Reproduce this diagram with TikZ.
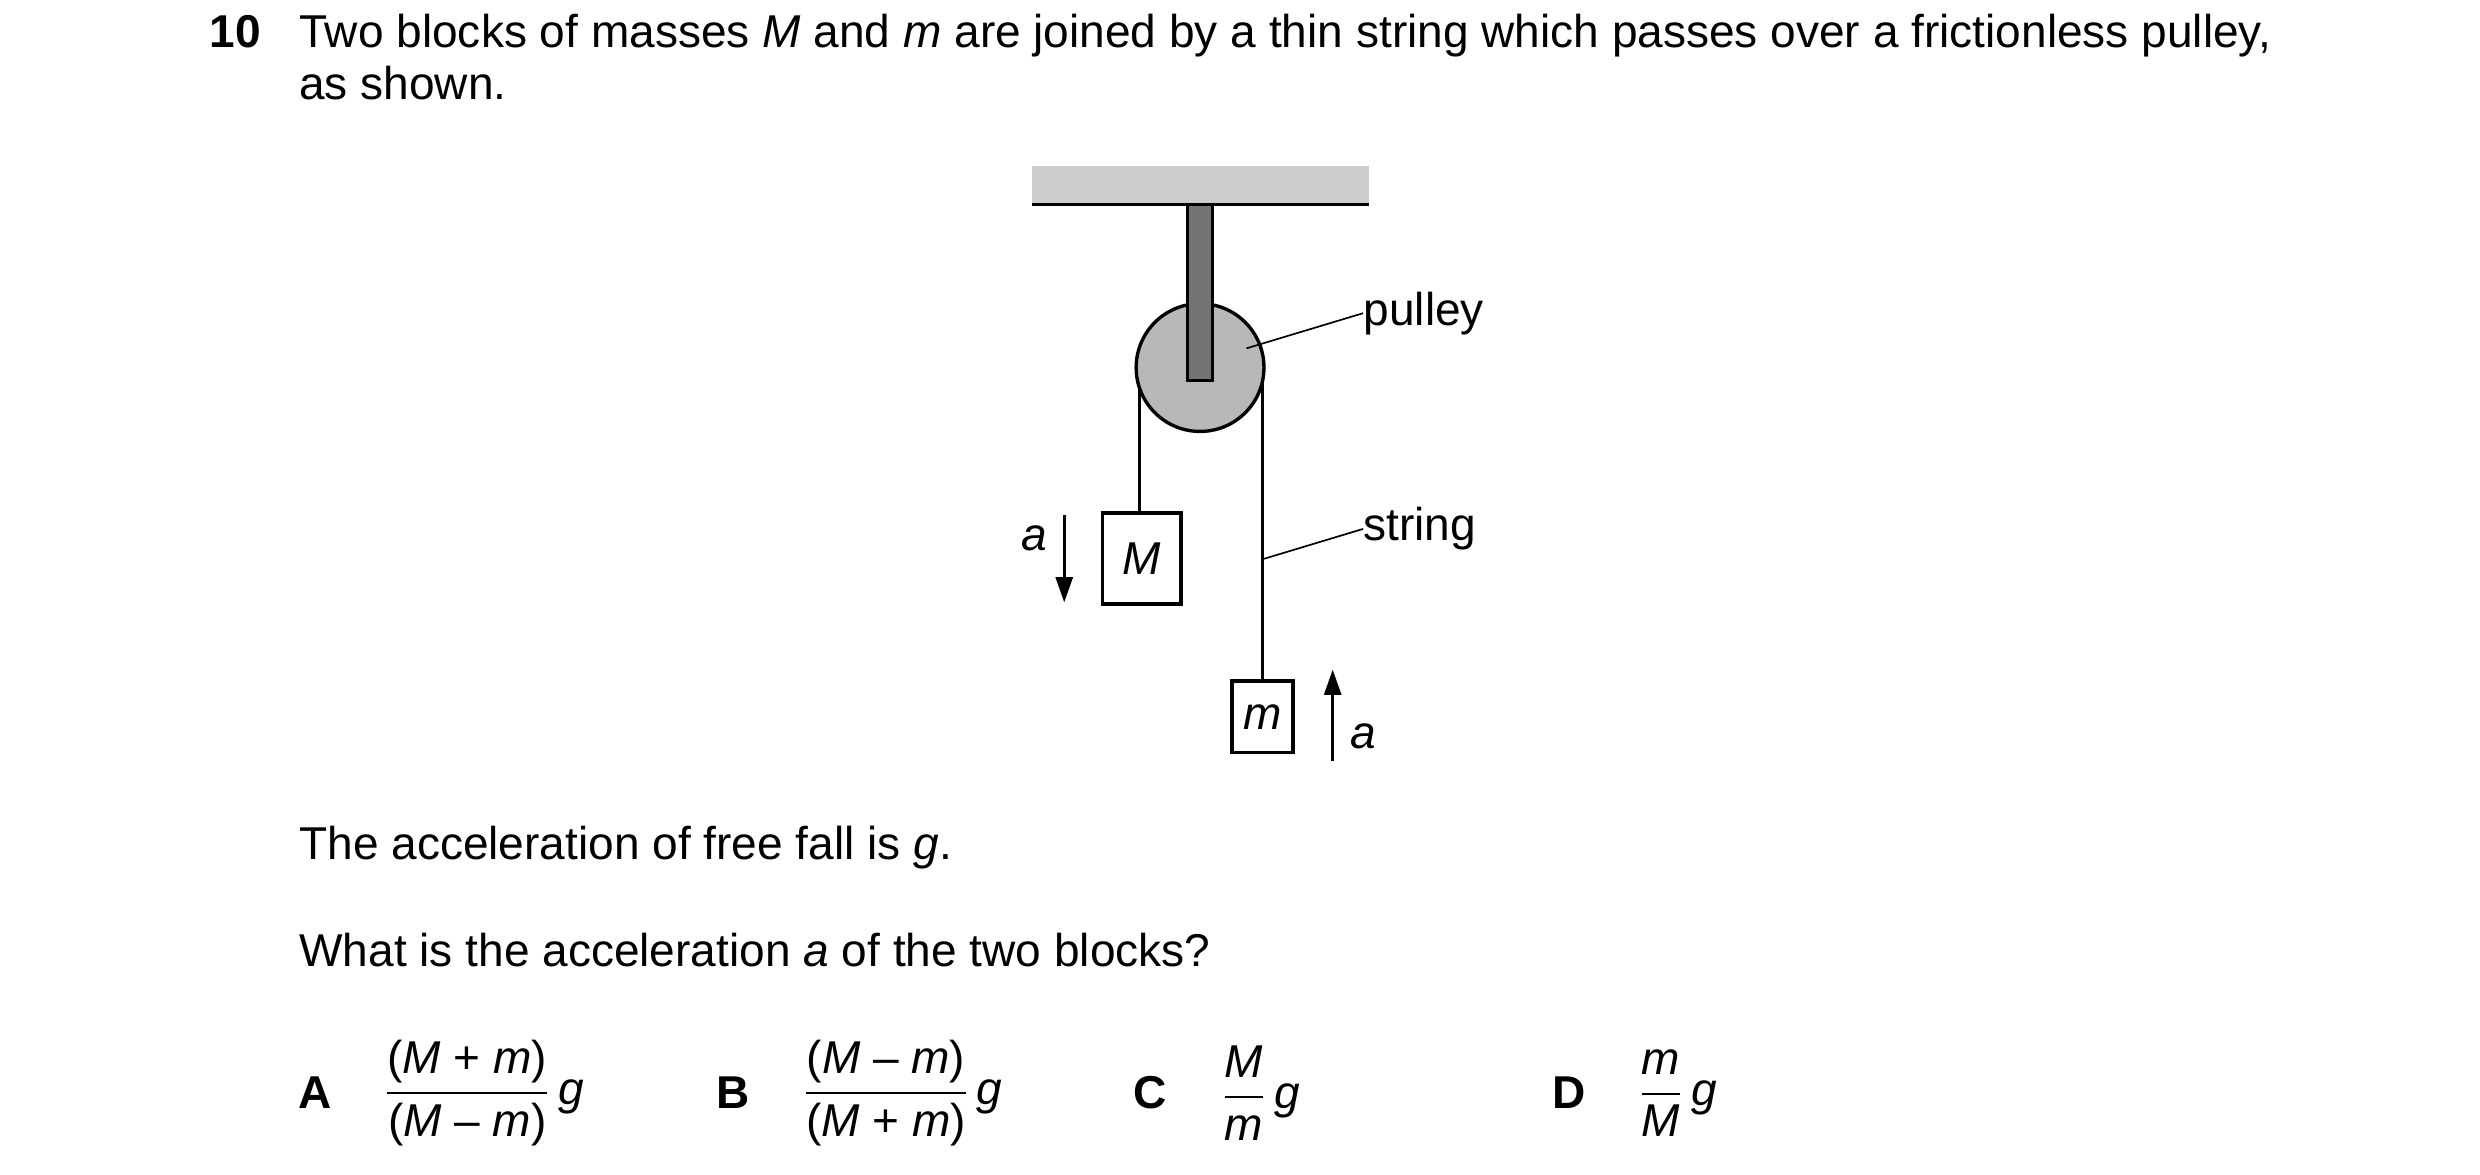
\documentclass[tikz,border=0pt]{standalone}
\usepackage{fontspec}
\setmainfont{Liberation Sans}
\usepackage{unicode-math}
\setmathfont{Latin Modern Math}
\usetikzlibrary{arrows.meta}
\newcommand{\fr}[2]{$\dfrac{\mbox{#1}}{\mbox{#2}}\,\mbox{\textit{g}}$}
\begin{document}
\begin{tikzpicture}[x=0.02cm,y=-0.02cm,
  txt/.style={font=\fontsize{16.4}{19}\selectfont,inner sep=0pt},
  blk/.style={draw,line width=1.2pt,fill=white,inner sep=0pt},
  str/.style={line width=1.1pt},
  lead/.style={line width=0.6pt},
  arr/.style={line width=1.1pt,-{Triangle[length=9pt,width=6pt]}}]
\useasboundingbox (0,0) rectangle (1552,735);
\node[txt,anchor=base west,font=\fontsize{16.4}{19}\selectfont\bfseries] (num) at (131,30) {10};
\node[txt,anchor=base west] (l1) at (187,30) {Two blocks of masses \textit{M} and \textit{m} are joined by a thin string which passes over a frictionless pulley,};
\node[txt,anchor=base west] (l2) at (187,62) {as shown.};
% ceiling
\fill[black!20] (646,104) rectangle (857,128);
\draw[line width=1.3pt] (646,128) -- (857,128);
% strings
\draw[str] (713,240) -- (713,320);
\draw[str] (790,230) -- (790,425);
% pulley
\node[circle,draw,line width=1.2pt,fill=black!28,inner sep=0pt,minimum size=1.6cm] (p) at (751,230) {};
\draw[line width=1.1pt,fill=black!55] (743,128) rectangle (759,238);
% blocks
\node[blk,minimum width=0.98cm,minimum height=1.14cm,anchor=north west] (M) at (689,320) {};
\node[txt] at (M.center) {\textit{M}};
\node[blk,minimum width=0.76cm,minimum height=0.9cm,anchor=north west] (mb) at (770,425) {};
\node[txt] at (mb.center) {\textit{m}};
% arrows
\coordinate (a1s) at (666,322); \coordinate (a1e) at (666,377);
\draw[arr] (a1s) -- (a1e);
\node[txt] (la1) at (647,337) {\textit{a}};
\coordinate (a2s) at (834,476); \coordinate (a2e) at (834,419);
\draw[arr] (a2s) -- (a2e);
\node[txt] (la2) at (853,461) {\textit{a}};
% labels
\node[txt,anchor=west] (pl) at (853,196) {pulley};
\coordinate (pp) at (780,218);
\draw[lead] (pp) -- (pl.west);
\node[txt,anchor=west] (sl) at (853,331) {string};
\coordinate (sp) at (790,350);
\draw[lead] (sp) -- (sl.west);
% text
\node[txt,anchor=base west] (q1) at (187,538) {The acceleration of free fall is \textit{g}.};
\node[txt,anchor=base west] (q2) at (187,605) {What is the acceleration \textit{a} of the two blocks?};
\node[txt,font=\fontsize{16.4}{19}\selectfont\bfseries] (A) at (197,684) {A};
\node[txt,anchor=west] (fA) at (240,684) {\fr{(\textit{M} + \textit{m})}{(\textit{M} – \textit{m})}};
\node[txt,font=\fontsize{16.4}{19}\selectfont\bfseries] (B) at (459,684) {B};
\node[txt,anchor=west] (fB) at (502,684) {\fr{(\textit{M} – \textit{m})}{(\textit{M} + \textit{m})}};
\node[txt,font=\fontsize{16.4}{19}\selectfont\bfseries] (C) at (720,684) {C};
\node[txt,anchor=west] (fC) at (764,684) {\fr{\textit{M}}{\textit{m}}};
\node[txt,font=\fontsize{16.4}{19}\selectfont\bfseries] (D) at (982,684) {D};
\node[txt,anchor=west] (fD) at (1025,684) {\fr{\textit{m}}{\textit{M}}};
\end{tikzpicture}
\end{document}
